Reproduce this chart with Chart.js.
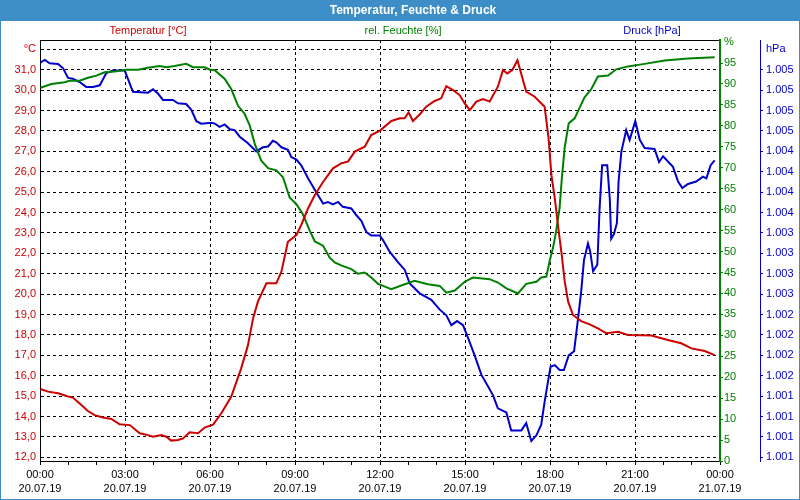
<!DOCTYPE html>
<html>
<head>
<meta charset="utf-8">
<script src="https://cdn.jsdelivr.net/npm/chart.js@4"></script>
<style>
  html, body { margin: 0; padding: 0; background: #fff; }
</style>
</head>
<body>
<canvas id="wetterChart" width="800" height="500"></canvas>
<script>
// Stunden ab 20.07.19 00:00
const tempHours = [0.02, 0.28, 0.64, 0.99, 1.16, 1.46, 1.69, 1.93, 2.22, 2.52, 2.81, 3.17, 3.52, 3.81, 3.99, 4.28, 4.46, 4.63, 4.87, 5.05, 5.28, 5.58, 5.81, 6.11, 6.40, 6.75, 7.10, 7.34, 7.52, 7.69, 7.99, 8.34, 8.52, 8.75, 9.05, 9.22, 9.46, 9.70, 9.99, 10.34, 10.63, 10.87, 11.11, 11.46, 11.69, 12.0, 12.40, 12.70, 12.87, 13.01, 13.16, 13.40, 13.63, 13.93, 14.16, 14.34, 14.58, 14.81, 14.99, 15.17, 15.40, 15.64, 15.87, 16.16, 16.34, 16.49, 16.67, 16.85, 17.16, 17.46, 17.81, 17.95, 18.05, 18.17, 18.28, 18.40, 18.52, 18.64, 18.81, 19.10, 19.40, 19.69, 19.99, 20.40, 20.75, 21.58, 22.16, 22.63, 22.99, 23.46, 23.81];
const tempValues = [15.35, 15.22, 15.14, 14.98, 14.93, 14.56, 14.27, 14.07, 13.95, 13.88, 13.62, 13.58, 13.18, 13.09, 13.01, 13.09, 13.01, 12.82, 12.85, 12.93, 13.23, 13.18, 13.46, 13.6, 14.16, 14.98, 16.36, 17.5, 18.81, 19.63, 20.53, 20.53, 21.1, 22.57, 22.9, 23.39, 24.2, 24.86, 25.5, 26.17, 26.41, 26.5, 26.99, 27.23, 27.8, 28.02, 28.49, 28.62, 28.62, 28.91, 28.49, 28.81, 29.19, 29.47, 29.6, 30.2, 30.0, 29.76, 29.35, 29.02, 29.44, 29.56, 29.44, 30.17, 30.99, 30.82, 30.99, 31.47, 29.93, 29.68, 29.19, 27.64, 25.84, 24.7, 23.39, 22.08, 20.61, 19.63, 18.98, 18.68, 18.52, 18.32, 18.08, 18.16, 18.0, 17.97, 17.75, 17.59, 17.34, 17.21, 17.01];

const humHours = [0.02, 0.40, 0.87, 1.05, 1.40, 1.69, 1.99, 2.28, 2.64, 3.05, 3.46, 3.81, 4.22, 4.46, 4.75, 5.16, 5.40, 5.81, 6.0, 6.17, 6.52, 6.75, 6.99, 7.22, 7.40, 7.58, 7.81, 8.05, 8.34, 8.58, 8.81, 9.05, 9.28, 9.52, 9.70, 9.99, 10.22, 10.40, 10.63, 10.99, 11.22, 11.46, 11.69, 11.93, 12.11, 12.40, 12.75, 13.22, 13.69, 14.11, 14.34, 14.64, 14.99, 15.28, 15.87, 16.16, 16.46, 16.87, 17.16, 17.52, 17.69, 17.87, 17.99, 18.11, 18.22, 18.34, 18.42, 18.52, 18.66, 18.87, 19.05, 19.22, 19.46, 19.69, 20.05, 20.34, 20.75, 21.34, 22.05, 22.87, 23.81];
const humValues = [89.1, 90.0, 90.4, 90.8, 90.8, 91.5, 92.0, 92.8, 93.0, 93.4, 93.4, 93.9, 94.3, 94.0, 94.3, 94.8, 94.0, 94.0, 93.4, 93.3, 91.2, 88.8, 84.8, 82.9, 80.1, 75.7, 71.7, 69.9, 69.4, 67.7, 62.9, 61.3, 58.9, 55.0, 52.4, 51.4, 48.6, 47.4, 46.7, 45.8, 44.7, 45.0, 43.8, 42.3, 41.8, 41.0, 41.9, 43.0, 42.2, 41.8, 40.2, 40.7, 42.8, 43.8, 43.4, 42.6, 41.2, 40.0, 42.3, 42.8, 43.8, 44.0, 47.8, 51.0, 55.0, 60.5, 67.7, 74.9, 80.6, 81.8, 84.4, 86.8, 88.8, 91.8, 92.0, 93.5, 94.2, 94.8, 95.6, 96.1, 96.4];

const presHours = [0.02, 0.17, 0.34, 0.64, 0.81, 0.99, 1.16, 1.40, 1.63, 1.87, 2.11, 2.34, 2.58, 2.99, 3.28, 3.81, 3.99, 4.16, 4.34, 4.69, 4.87, 5.16, 5.34, 5.52, 5.69, 6.05, 6.17, 6.34, 6.52, 6.70, 6.87, 7.05, 7.34, 7.63, 7.87, 8.05, 8.22, 8.34, 8.52, 8.75, 8.87, 9.05, 9.22, 9.46, 9.75, 9.99, 10.16, 10.34, 10.52, 10.69, 10.99, 11.16, 11.34, 11.52, 11.69, 11.99, 12.11, 12.34, 12.64, 12.87, 13.05, 13.40, 13.81, 14.11, 14.34, 14.52, 14.72, 14.93, 15.11, 15.34, 15.58, 15.81, 15.99, 16.16, 16.46, 16.63, 16.99, 17.16, 17.34, 17.52, 17.69, 17.81, 17.93, 18.02, 18.17, 18.34, 18.49, 18.66, 18.85, 18.99, 19.10, 19.20, 19.34, 19.42, 19.52, 19.67, 19.75, 19.84, 20.02, 20.11, 20.16, 20.26, 20.36, 20.42, 20.52, 20.69, 20.81, 21.01, 21.17, 21.34, 21.69, 21.85, 21.99, 22.34, 22.52, 22.67, 22.87, 23.16, 23.40, 23.52, 23.67, 23.81];
const presValues = [1005.34, 1005.37, 1005.33, 1005.32, 1005.27, 1005.15, 1005.14, 1005.10, 1005.04, 1005.04, 1005.06, 1005.21, 1005.24, 1005.24, 1004.98, 1004.97, 1005.01, 1004.96, 1004.88, 1004.88, 1004.84, 1004.83, 1004.76, 1004.62, 1004.59, 1004.60, 1004.59, 1004.55, 1004.58, 1004.52, 1004.51, 1004.43, 1004.35, 1004.25, 1004.30, 1004.31, 1004.38, 1004.36, 1004.30, 1004.27, 1004.18, 1004.15, 1004.08, 1003.92, 1003.75, 1003.61, 1003.63, 1003.60, 1003.63, 1003.57, 1003.55, 1003.47, 1003.40, 1003.26, 1003.22, 1003.22, 1003.16, 1003.02, 1002.89, 1002.80, 1002.63, 1002.51, 1002.43, 1002.31, 1002.24, 1002.12, 1002.17, 1002.12, 1001.96, 1001.75, 1001.51, 1001.37, 1001.26, 1001.10, 1001.05, 1000.83, 1000.83, 1000.92, 1000.70, 1000.77, 1000.90, 1001.18, 1001.43, 1001.61, 1001.63, 1001.57, 1001.57, 1001.75, 1001.80, 1002.20, 1002.53, 1002.92, 1003.12, 1003.02, 1002.78, 1002.86, 1003.55, 1004.08, 1004.08, 1003.67, 1003.18, 1003.24, 1003.37, 1003.88, 1004.25, 1004.51, 1004.39, 1004.62, 1004.39, 1004.29, 1004.28, 1004.12, 1004.19, 1004.06, 1003.88, 1003.80, 1003.85, 1003.88, 1003.94, 1003.92, 1004.08, 1004.14];

const hourTicks = [0, 1, 2, 3, 4, 5, 6, 7, 8, 9, 10, 11, 12, 13, 14, 15, 16, 17, 18, 19, 20, 21, 22, 23, 24];
const xTickTimes = ['00:00', '03:00', '06:00', '09:00', '12:00', '15:00', '18:00', '21:00', '00:00'];
const xTickDates = ['20.07.19', '20.07.19', '20.07.19', '20.07.19', '20.07.19', '20.07.19', '20.07.19', '20.07.19', '21.07.19'];
const tempTicks = [12, 13, 14, 15, 16, 17, 18, 19, 20, 21, 22, 23, 24, 25, 26, 27, 28, 29, 30, 31, 32];
const humTicks = [0, 5, 10, 15, 20, 25, 30, 35, 40, 45, 50, 55, 60, 65, 70, 75, 80, 85, 90, 95, 100];
const presTicks = [1000.5, 1000.75, 1001, 1001.25, 1001.5, 1001.75, 1002, 1002.25, 1002.5, 1002.75, 1003, 1003.25, 1003.5, 1003.75, 1004, 1004.25, 1004.5, 1004.75, 1005, 1005.25, 1005.5];

const chartTitle = 'Temperatur, Feuchte & Druck';
const seriesLabels = ['Temperatur [°C]', 'rel. Feuchte [%]', 'Druck [hPa]'];

const RED = '#d00000';
const GREEN = '#008000';
const BLUE = '#0000cc';
const CLEAR = 'rgba(0,0,0,0)';

Chart.defaults.font.family = '"Liberation Sans", Arial, sans-serif';
Chart.defaults.font.size = 11;

const toPoints = (xs, ys) => xs.map((h, i) => ({ x: h, y: ys[i] }));
const fmtPres = v => { const s = String(Math.round(v)); return s[0] + '.' + s.slice(1); };

const framePlugin = {
    id: 'frame',
    beforeDraw(chart) {
        const c = chart.ctx;
        const w = chart.width, h = chart.height;
        const a = chart.chartArea;
        c.save();
        c.fillStyle = '#fff';
        c.fillRect(0, 0, w, h);
        c.fillStyle = '#3d8ec6';
        c.fillRect(0, 0, w, 21);
        c.strokeStyle = '#3d8ec6';
        c.lineWidth = 1;
        c.strokeRect(0.5, 0.5, w - 1, h - 1);

        c.fillStyle = '#fff';
        c.font = 'bold 12px "Liberation Sans"';
        c.textAlign = 'center';
        c.textBaseline = 'middle';
        c.fillText(chartTitle, 413, 10.5);

        c.font = '11px "Liberation Sans"';
        const cols = [RED, GREEN, BLUE];
        const xs = [148, 403, 652];
        seriesLabels.forEach((t, i) => {
            c.fillStyle = cols[i];
            c.fillText(t, xs[i], 31);
        });

        c.strokeStyle = '#000';
        c.beginPath();
        c.moveTo(a.left, a.top + 0.5);
        c.lineTo(a.right, a.top + 0.5);
        c.stroke();
        c.restore();
    }
};

new Chart(document.getElementById('wetterChart'), {
    type: 'line',
    data: {
        datasets: [{
            label: seriesLabels[0],
            data: toPoints(tempHours, tempValues),
            yAxisID: 'yTemp',
            borderColor: '#cc0000',
            borderWidth: 2,
            pointRadius: 0,
            tension: 0
        }, {
            label: seriesLabels[1],
            data: toPoints(humHours, humValues),
            yAxisID: 'yHum',
            borderColor: GREEN,
            borderWidth: 2,
            pointRadius: 0,
            tension: 0
        }, {
            label: seriesLabels[2],
            data: toPoints(presHours, presValues),
            yAxisID: 'yPres',
            borderColor: BLUE,
            borderWidth: 2,
            pointRadius: 0,
            tension: 0
        }]
    },
    options: {
        responsive: false,
        animation: false,
        layout: { padding: { top: 40, left: 0, right: 0, bottom: 0 } },
        plugins: {
            legend: { display: false },
            tooltip: { enabled: false }
        },
        scales: {
            x: {
                type: 'linear',
                min: 0,
                max: 24,
                afterBuildTicks: s => { s.ticks = hourTicks.map(v => ({ value: v })); },
                afterFit: s => { s.height = 39; },
                grid: {
                    color: c => (c.tick && c.tick.value % 3 === 0 && c.tick.value > 0 && c.tick.value < 24) ? '#000' : CLEAR,
                    tickColor: '#000',
                    tickLength: 4,
                    lineWidth: 1
                },
                border: { color: '#000', width: 1, dash: [3, 3] },
                ticks: {
                    color: '#000',
                    padding: 2,
                    autoSkip: false,
                    maxRotation: 0,
                    minRotation: 0,
                    font: { size: 11, lineHeight: 1.36 },
                    callback: v => v % 3 === 0 ? [xTickTimes[v / 3], xTickDates[v / 3]] : ''
                }
            },
            yTemp: {
                type: 'linear',
                position: 'left',
                min: 11.82,
                max: 32.46,
                afterBuildTicks: s => { s.ticks = tempTicks.map(v => ({ value: v })); },
                afterFit: s => { s.width = 40; },
                grid: { color: '#000', lineWidth: 1, drawTicks: false },
                border: { color: '#000', width: 1, dash: [3, 3] },
                ticks: {
                    color: RED,
                    padding: 4,
                    callback: v => v === 32 ? '°C' : v.toFixed(1).replace('.', ',')
                }
            },
            yHum: {
                type: 'linear',
                position: 'right',
                weight: 0,
                min: 0,
                max: 100.5,
                afterBuildTicks: s => { s.ticks = humTicks.map(v => ({ value: v })); },
                afterFit: s => { s.width = 40; },
                grid: {
                    drawOnChartArea: false,
                    color: GREEN,
                    tickLength: 3,
                    tickColor: c => (c.tick && c.tick.value === 100) ? CLEAR : GREEN
                },
                border: { color: GREEN, width: 2 },
                ticks: {
                    color: GREEN,
                    padding: 1,
                    callback: v => v === 100 ? '%' : String(v)
                }
            },
            yPres: {
                type: 'linear',
                position: 'right',
                weight: 1,
                min: 1000.455,
                max: 1005.615,
                afterBuildTicks: s => { s.ticks = presTicks.map(v => ({ value: v })); },
                afterFit: s => { s.width = 40; },
                grid: {
                    drawOnChartArea: false,
                    color: BLUE,
                    tickLength: 3,
                    tickColor: c => (c.tick && c.tick.value >= 1005.5) ? CLEAR : BLUE
                },
                border: { color: BLUE, width: 1 },
                ticks: {
                    color: BLUE,
                    padding: 3,
                    callback: v => v >= 1005.5 ? 'hPa' : fmtPres(v)
                }
            }
        }
    },
    plugins: [framePlugin]
});
</script>
</body>
</html>
